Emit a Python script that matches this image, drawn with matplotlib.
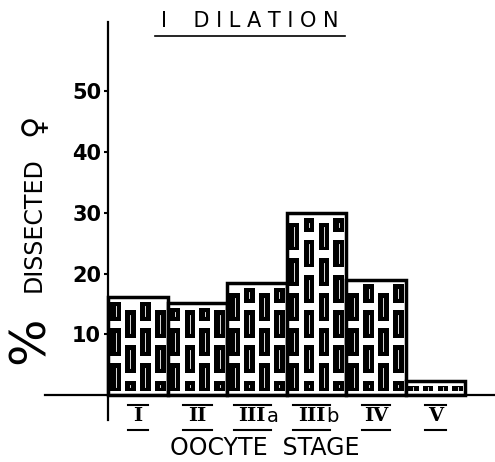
import numpy as np
import matplotlib.pyplot as plt
from matplotlib.patches import Rectangle

# oocyte stages and % dissected females
stages = ['I', 'II', 'III', 'III', 'IV', 'V']
suffix = ['', '', 'a', 'b', '', '']
pct = [16.2, 15.2, 18.5, 30.0, 19.0, 2.3]
yticks = [10, 20, 30, 40, 50]

fig = plt.figure(figsize=(4.95, 4.62), dpi=100)
ax = fig.add_axes([45/495, 42/462, 450/495, 398/462])
ax.set_xlim(-1.56, 6.0)
ax.set_ylim(-4.1, 61.4)

x = np.arange(len(pct))
ax.bar(x, pct, width=1.0, color='white', edgecolor='black', linewidth=2.5, zorder=2)

# brick texture inside each bar
ncol = 4
cw = 1.0 / ncol
for i, v in enumerate(pct):
    left = i - 0.5
    for c in range(ncol):
        y = 0.6 if c % 2 == 0 else -2.2
        while y < v - 0.8:
            y0 = max(y, 0.6)
            y1 = min(y + 4.6, v - 0.8)
            if y1 - y0 > 0.7:
                ax.add_patch(Rectangle((left + c*cw + 0.14*cw, y0), 0.72*cw, y1 - y0,
                                       facecolor='black', edgecolor='none', zorder=3))
                ax.plot([left + c*cw + 0.5*cw]*2, [y0 + 0.8, y1 - 0.8], color='white',
                        lw=0.6, zorder=4)
            y += 5.8

for s in ['top', 'right']:
    ax.spines[s].set_visible(False)
ax.spines['left'].set_position(('data', -0.5))
ax.spines['bottom'].set_position(('data', 0))
ax.spines['left'].set_linewidth(1.6)
ax.spines['bottom'].set_linewidth(1.6)
ax.set_xticks([])
ax.set_yticks(yticks)
ax.set_yticklabels([str(t) for t in yticks], fontsize=15, fontweight='bold')
ax.tick_params(axis='y', length=3, width=1.5, pad=2)

# roman numeral stage labels with over/underline
for i, (s, sf) in enumerate(zip(stages, suffix)):
    xc = i - 0.08 if sf else i
    ax.text(xc, -2.0, s, ha='center', va='top', fontsize=14,
            fontweight='bold', family='DejaVu Serif', clip_on=False)
    if sf:
        ax.text(xc + 0.06 + 0.06*len(s), -2.0, sf, ha='left', va='top', fontsize=14,
                family='DejaVu Sans', clip_on=False)
    hw = 0.1 + 0.07*len(s)
    ax.plot([xc - hw, xc + hw], [-1.6, -1.6], color='black', lw=1.5, clip_on=False)
    ax.plot([xc - hw, xc + hw], [-5.8, -5.8], color='black', lw=1.5, clip_on=False)

fig.text(265/495, 1 - 448/462, 'OOCYTE  STAGE', ha='center', va='center', fontsize=17)

# title
fig.text(250/495, 1 - 21/462, 'I    D I L A T I O N', ha='center', va='center', fontsize=15)
fig.add_artist(plt.Line2D([155/495, 345/495], [1 - 36/462]*2, color='black', lw=1.2))

# y label
fig.text(30/495, 1 - 340/462, '%', rotation=90, ha='center', va='center', fontsize=36)
fig.text(34/495, 1 - 225/462, 'DISSECTED', rotation=90, ha='center', va='center',
         fontsize=17)
fig.text(34/495, 1 - 125/462, '\u2640', rotation=90, ha='center', va='center', fontsize=22)

fig.savefig('out.png', dpi=100)
